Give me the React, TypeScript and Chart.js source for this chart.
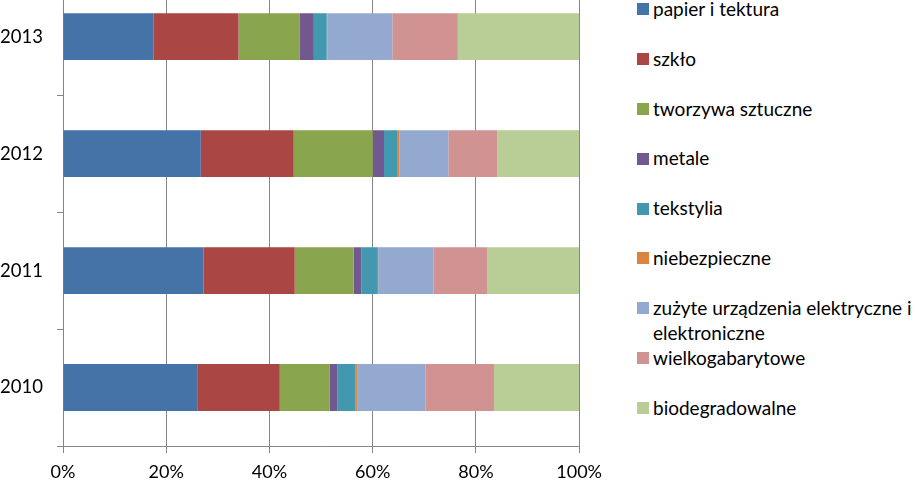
import React, { useEffect, useRef } from "react";
import { Chart, registerables } from "chart.js";

Chart.register(...registerables);

const years = ["2010", "2011", "2012", "2013"];
const seriesNames = [
  "papier i tektura",
  "szkło",
  "tworzywa sztuczne",
  "metale",
  "tekstylia",
  "niebezpieczne",
  "zużyte urządzenia elektryczne i elektroniczne",
  "wielkogabarytowe",
  "biodegradowalne",
];
const papier = [26.0, 27.2, 26.7, 17.5];
const szklo = [16.0, 17.7, 18.0, 16.5];
const tworzywa = [9.7, 11.4, 15.3, 11.9];
const metale = [1.5, 1.5, 2.2, 2.7];
const tekstylia = [3.5, 3.2, 2.65, 2.5];
const niebezpieczne = [0.3, 0.05, 0.3, 0.1];
const zuzyte = [13.2, 10.7, 9.5, 12.6];
const wielkogabarytowe = [13.3, 10.5, 9.5, 12.7];
const biodegradowalne = [16.5, 17.8, 15.9, 23.6];
const xTicks = [0, 20, 40, 60, 80, 100];

const seriesValues = [
  papier,
  szklo,
  tworzywa,
  metale,
  tekstylia,
  niebezpieczne,
  zuzyte,
  wielkogabarytowe,
  biodegradowalne,
];
const colors = [
  "#4572A7",
  "#AA4643",
  "#89A54E",
  "#71588F",
  "#4198AF",
  "#DB843D",
  "#93A9CF",
  "#D19392",
  "#B9CD96",
];

const FONT = "Lato";
const GRID = "#868686";

export default function App() {
  const ref = useRef<HTMLCanvasElement | null>(null);

  useEffect(() => {
    if (!ref.current) return;
    const chart = new Chart(ref.current, {
      type: "bar",
      data: {
        labels: years,
        datasets: seriesNames.map((name, i) => ({
          label: name,
          data: seriesValues[i],
          backgroundColor: colors[i],
          borderWidth: 0,
          barPercentage: 0.4,
          categoryPercentage: 1,
        })),
      },
      options: {
        indexAxis: "y",
        animation: false,
        responsive: false,
        devicePixelRatio: 1,
        layout: { padding: { top: 7, right: 0, bottom: 0, left: 0 } },
        plugins: {
          legend: { display: false },
          tooltip: { enabled: false },
        },
        scales: {
          x: {
            stacked: true,
            min: 0,
            max: 100,
            afterFit: (s: any) => {
              s.height = 44;
            },
            afterBuildTicks: (s: any) => {
              s.ticks = xTicks.map((v) => ({ value: v }));
            },
            ticks: {
              color: "#000",
              font: { family: FONT, size: 18 },
              padding: 8,
              callback: (v: any) => v + "%",
            },
            grid: {
              color: GRID,
              lineWidth: 1,
              drawTicks: true,
              tickLength: 7,
            },
            border: { display: true, color: GRID },
          },
          y: {
            stacked: true,
            reverse: true,
            afterFit: (s: any) => {
              s.width = 63;
            },
            ticks: {
              color: "#000",
              font: { family: FONT, size: 18.5 },
              padding: 14,
            },
            grid: {
              offset: true,
              drawOnChartArea: false,
              drawTicks: true,
              tickLength: 6,
              color: GRID,
            },
            border: { display: true, color: GRID },
          },
        },
      },
    });
    return () => chart.destroy();
  }, []);

  const pitch = 49.9;
  const lineH = 24.6;
  const firstCenter = 9;

  return (
    <div
      style={{
        position: "fixed",
        left: 0,
        top: 0,
        width: 916,
        height: 480,
        overflow: "hidden",
        background: "#fff",
      }}
    >
      <div style={{ position: "absolute", left: 0, top: -47, width: 610, height: 537 }}>
        <canvas ref={ref} width={610} height={537} style={{ display: "block" }} />
      </div>
      {seriesNames.map((name, i) => {
        const top = firstCenter + i * pitch - lineH / 2;
        return (
          <div
            key={name}
            style={{
              position: "absolute",
              left: 637,
              top,
              width: 279,
              fontFamily: FONT,
              fontSize: 19,
              lineHeight: lineH + "px",
              color: "#000",
            }}
          >
            <span
              style={{
                position: "absolute",
                left: 0,
                top: lineH / 2 - 6,
                width: 12,
                height: 12,
                background: colors[i],
              }}
            />
            <div style={{ marginLeft: 16, width: 270 }}>{name}</div>
          </div>
        );
      })}
    </div>
  );
}
